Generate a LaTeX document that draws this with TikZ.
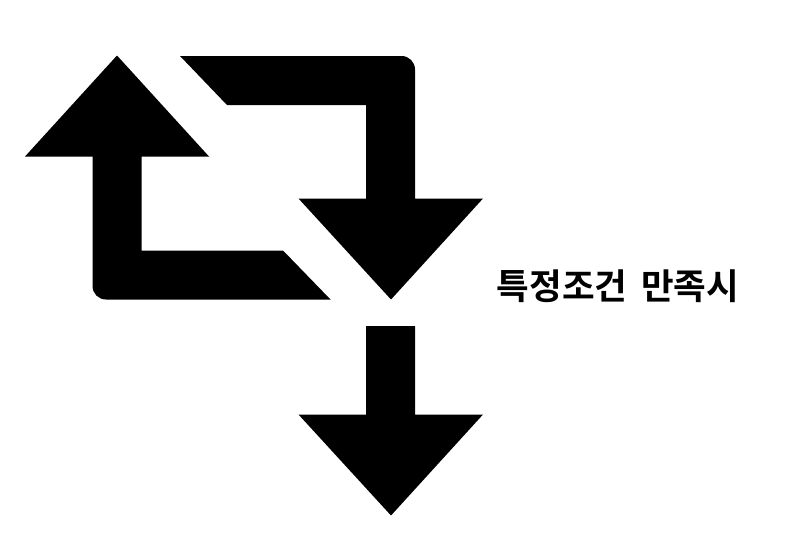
\documentclass[tikz,border=0pt]{standalone}
\usepackage{fontspec}
\newfontfamily\cjk{Noto Sans CJK KR}[BoldFont=* Bold]
\begin{document}
\begin{tikzpicture}[x=1pt,y=-1pt,
  shapefill/.style={fill=black,draw=none},
  labeltext/.style={inner sep=0pt,anchor=center,font=\cjk\bfseries\fontsize{35.5}{40}\selectfont}]
\useasboundingbox[fill=white] (0,0) rectangle (800,546);
% left arrow, pointing up
\fill[shapefill] (117,55.5) -- (209,156.5) -- (141.5,156.5) -- (141.5,250.5) -- (283,250.5) -- (330.5,299.5)
  -- (106,299.5) .. controls (98.5,299.5) and (92.5,293.5) .. (92.5,286) -- (92.5,156.5) -- (25,156.5) -- cycle;
% right arrow, pointing down
\fill[shapefill] (180,56) -- (401.5,56) .. controls (409,56) and (415,62) .. (415,69.5) -- (415,198.5)
  -- (483,198.5) -- (391,299.5) -- (298.5,198.5) -- (366,198.5) -- (366,105) -- (227,105) -- cycle;
% lower arrow
\fill[shapefill] (366,326) -- (415,326) -- (415,414.5) -- (483,414.5) -- (391,515.5) -- (298.5,414.5) -- (366,414.5) -- cycle;
\node[labeltext] (cond) at (618,286) {특정조건\hspace{14pt}만족시};
\end{tikzpicture}
\end{document}
